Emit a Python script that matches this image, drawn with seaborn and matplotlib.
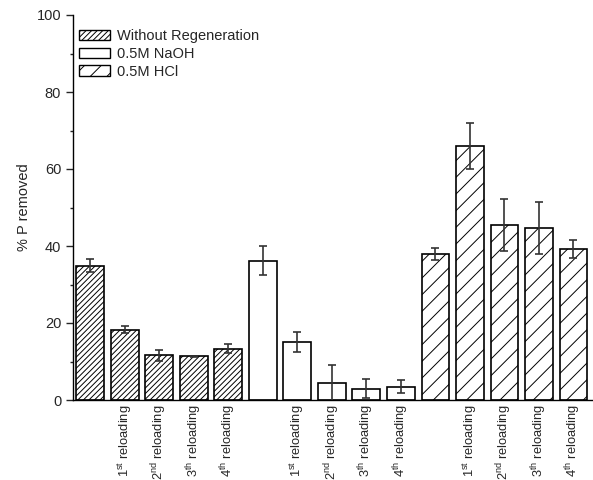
import matplotlib
matplotlib.use("Agg")
import numpy as np
import pandas as pd
import matplotlib.pyplot as plt
import seaborn as sns
from matplotlib.patches import Patch
from matplotlib.ticker import MultipleLocator

# --- datos ---
groups = ["Without Regeneration", "0.5M NaOH", "0.5M HCl"]
stages = ["", r"1$^{\rm st}$ reloading", r"2$^{\rm nd}$ reloading",
          r"3$^{\rm th}$ reloading", r"4$^{\rm th}$ reloading"]

values_without = [34.9, 18.2, 11.6, 11.3, 13.3]
err_without = [1.6, 0.9, 1.5, 0.2, 1.2]
values_naoh = [36.2, 15.1, 4.3, 2.9, 3.5]
err_naoh = [3.8, 2.6, 4.9, 2.5, 1.7]
values_hcl = [37.9, 66.0, 45.4, 44.6, 39.2]
err_hcl = [1.6, 6.0, 6.7, 6.7, 2.4]

hatches = {"Without Regeneration": "//////", "0.5M NaOH": "", "0.5M HCl": "//"}

df = pd.DataFrame({
    "pos": list(range(15)),
    "value": values_without + values_naoh + values_hcl,
    "err": err_without + err_naoh + err_hcl,
    "group": [g for g in groups for _ in range(5)],
    "label": stages * 3,
})

sns.set_style("ticks")
plt.rcParams["font.family"] = ["Liberation Sans", "DejaVu Sans"]
plt.rcParams["mathtext.fontset"] = "custom"
plt.rcParams["mathtext.rm"] = "Liberation Sans"
plt.rcParams["hatch.linewidth"] = 0.7

fig = plt.figure(figsize=(5.93, 4.8), dpi=100)
ax = fig.add_axes([73 / 593, 80 / 480, 520 / 593, 385 / 480])

sns.barplot(data=df, x="pos", y="value", hue="group", hue_order=groups,
            dodge=False, palette=["white"] * 3, edgecolor="black",
            linewidth=1.2, width=0.8, legend=False, ax=ax)

# tramas por grupo
for p in ax.patches:
    i = int(round(p.get_x() + p.get_width() / 2))
    p.set_hatch(hatches[df.loc[i, "group"]])
    p.set_edgecolor("black")

ax.errorbar(df["pos"], df["value"], yerr=df["err"], fmt="none",
            ecolor="#333333", elinewidth=1.2, capsize=3, capthick=1.2, zorder=5)

ax.set_xlim(-0.5, 14.57)
ax.set_ylim(0, 100)
ax.set_yticks(range(0, 101, 20))
ax.yaxis.set_minor_locator(MultipleLocator(10))
ax.tick_params(axis="y", which="major", length=5, width=1, labelsize=10.5)
ax.tick_params(axis="y", which="minor", length=2.5, width=1)
ax.set_xticks(range(15))
ax.set_xticklabels(df["label"], rotation=90, fontsize=9.3)
ax.tick_params(axis="x", length=0, pad=3)
ax.set_xlabel("")
ax.set_ylabel("% P removed", fontsize=10.5, labelpad=4)
sns.despine(ax=ax)
for s in ["left", "bottom"]:
    ax.spines[s].set_linewidth(1)
    ax.spines[s].set_color("black")

handles = [Patch(facecolor="white", edgecolor="black", hatch=hatches[g], label=g)
           for g in groups]
ax.legend(handles=handles, loc="upper left", bbox_to_anchor=(0.012, 0.963),
          frameon=False, fontsize=10.5, handlelength=2.1, handleheight=0.7,
          handletextpad=0.5, labelspacing=0.25, borderpad=0, borderaxespad=0)

fig.savefig("out.png", dpi=100)
